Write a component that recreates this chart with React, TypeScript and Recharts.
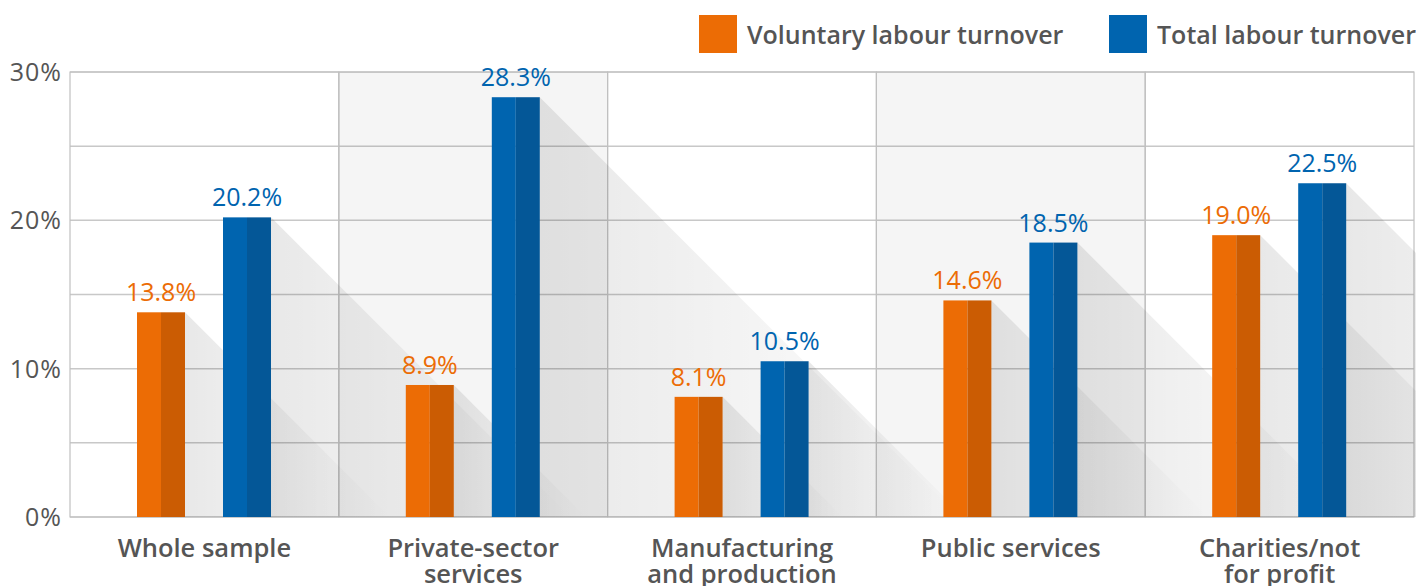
import React from "react"
import { BarChart, Bar, XAxis, YAxis, CartesianGrid, ReferenceArea, LabelList } from "recharts"

const categories = ["Whole sample", "Private-sector services", "Manufacturing and production", "Public services", "Charities/not for profit"]
const labelLines = [["Whole sample"], ["Private-sector", "services"], ["Manufacturing", "and production"], ["Public services"], ["Charities/not", "for profit"]]
const voluntary = [13.8, 8.9, 8.1, 14.6, 19.0]
const total = [20.2, 28.3, 10.5, 18.5, 22.5]
const yTicks = [0, 10, 20, 30]
const gridValues = [0, 5, 10, 15, 20, 25, 30]
const shadedCats = [categories[1], categories[3]]

const ORANGE = "#ec6c05"
const ORANGE_DARK = "#cb5c03"
const BLUE = "#0064af"
const BLUE_DARK = "#045797"
const TEXT = "#555"
const FONT = "'Open Sans', Lato, sans-serif"
const BAR_GAP = 38

const data = categories.map((name, i) => ({ name, voluntary: voluntary[i], total: total[i] }))

function Shadow({ x, top, bottom, id }: { x: number; top: number; bottom: number; id: string }) {
  const h = bottom - top
  return (
    <g>
      <defs>
        <linearGradient id={id} x1="0" y1="0" x2="1" y2="0">
          <stop offset="0%" stopColor="#000" stopOpacity={0.09} />
          <stop offset="100%" stopColor="#000" stopOpacity={0.0} />
        </linearGradient>
      </defs>
      <polygon points={`${x},${top} ${x + h},${bottom} ${x},${bottom}`} fill={`url(#${id})`} />
    </g>
  )
}

function TwoTone({ x, y, width, height, light, dark }: any) {
  return (
    <g>
      <rect x={x} y={y} width={width / 2} height={height} fill={light} />
      <rect x={x + width / 2} y={y} width={width / 2} height={height} fill={dark} />
    </g>
  )
}

// orange shape also paints both shadows so later bars sit on top of them
function OrangeShape(props: any) {
  const { x, y, width, height, payload, index } = props
  const bottom = y + height
  const perUnit = height / payload.voluntary
  const blueX = x + width + BAR_GAP
  const blueTop = bottom - payload.total * perUnit
  return (
    <g>
      <Shadow x={blueX + width} top={blueTop} bottom={bottom} id={`sh-b-${index}`} />
      <Shadow x={x + width} top={y} bottom={bottom} id={`sh-o-${index}`} />
      <TwoTone x={x} y={y} width={width} height={height} light={ORANGE} dark={ORANGE_DARK} />
    </g>
  )
}

function BlueShape(props: any) {
  return <TwoTone {...props} light={BLUE} dark={BLUE_DARK} />
}

function CategoryTick({ x, y, payload }: any) {
  const idx = categories.indexOf(payload.value)
  const lines = labelLines[idx] || [payload.value]
  return (
    <text x={x} y={y + 38} textAnchor="middle" fill={TEXT} fontFamily={FONT} fontWeight={600} fontSize={25.5}>
      {lines.map((l, i) => (
        <tspan key={i} x={x} dy={i === 0 ? 0 : 26}>{l}</tspan>
      ))}
    </text>
  )
}

function LegendBox() {
  const items = [
    { label: "Voluntary labour turnover", color: ORANGE, left: 699 },
    { label: "Total labour turnover", color: BLUE, left: 1109 },
  ]
  return (
    <>
      {items.map((it) => (
        <div key={it.label} style={{ position: "absolute", left: it.left, top: 15, display: "flex", alignItems: "center", height: 38 }}>
          <div style={{ width: 38, height: 38, background: it.color }} />
          <span style={{ marginLeft: 10, fontFamily: FONT, fontWeight: 600, fontSize: 25, color: TEXT, whiteSpace: "nowrap" }}>{it.label}</span>
        </div>
      ))}
    </>
  )
}

const pct = (v: any) => `${Number(v).toFixed(1)}%`

export default function App() {
  return (
    <div style={{ position: "relative", width: 1416, height: 586, background: "#fff" }}>
      <style>{`body{margin:0}`}</style>
      <BarChart width={1416} height={586} data={data} margin={{ top: 72, right: 2, bottom: 0, left: 0 }} barSize={48} barGap={BAR_GAP}>
        <CartesianGrid vertical={false} horizontalValues={gridValues} stroke="#c8c8c8" strokeWidth={1.5} />
        {categories.map((c) => (
          <ReferenceArea
            key={c}
            x1={c}
            x2={c}
            y1={0}
            y2={30}
            fill="#000"
            fillOpacity={shadedCats.includes(c) ? 0.04 : 0}
            stroke="#c0c0c0"
            strokeWidth={1.2}
          />
        ))}
        <XAxis dataKey="name" height={69} axisLine={false} tickLine={false} tickSize={0} tick={<CategoryTick />} interval={0} />
        <YAxis
          width={70}
          domain={[0, 30]}
          ticks={yTicks}
          axisLine={false}
          tickLine={false}
          tickSize={0}
          tickMargin={8}
          tickFormatter={(v) => `${v}%`}
          tick={{ fill: TEXT, fontFamily: FONT, fontSize: 25, letterSpacing: 1 }}
        />
        <Bar dataKey="voluntary" shape={<OrangeShape />} isAnimationActive={false}>
          <LabelList dataKey="voluntary" position="top" offset={11} formatter={pct} fill={ORANGE} fontFamily={FONT} fontSize={25} />
        </Bar>
        <Bar dataKey="total" shape={<BlueShape />} isAnimationActive={false}>
          <LabelList dataKey="total" position="top" offset={11} formatter={pct} fill={BLUE} fontFamily={FONT} fontSize={25} />
        </Bar>
      </BarChart>
      <LegendBox />
    </div>
  )
}
